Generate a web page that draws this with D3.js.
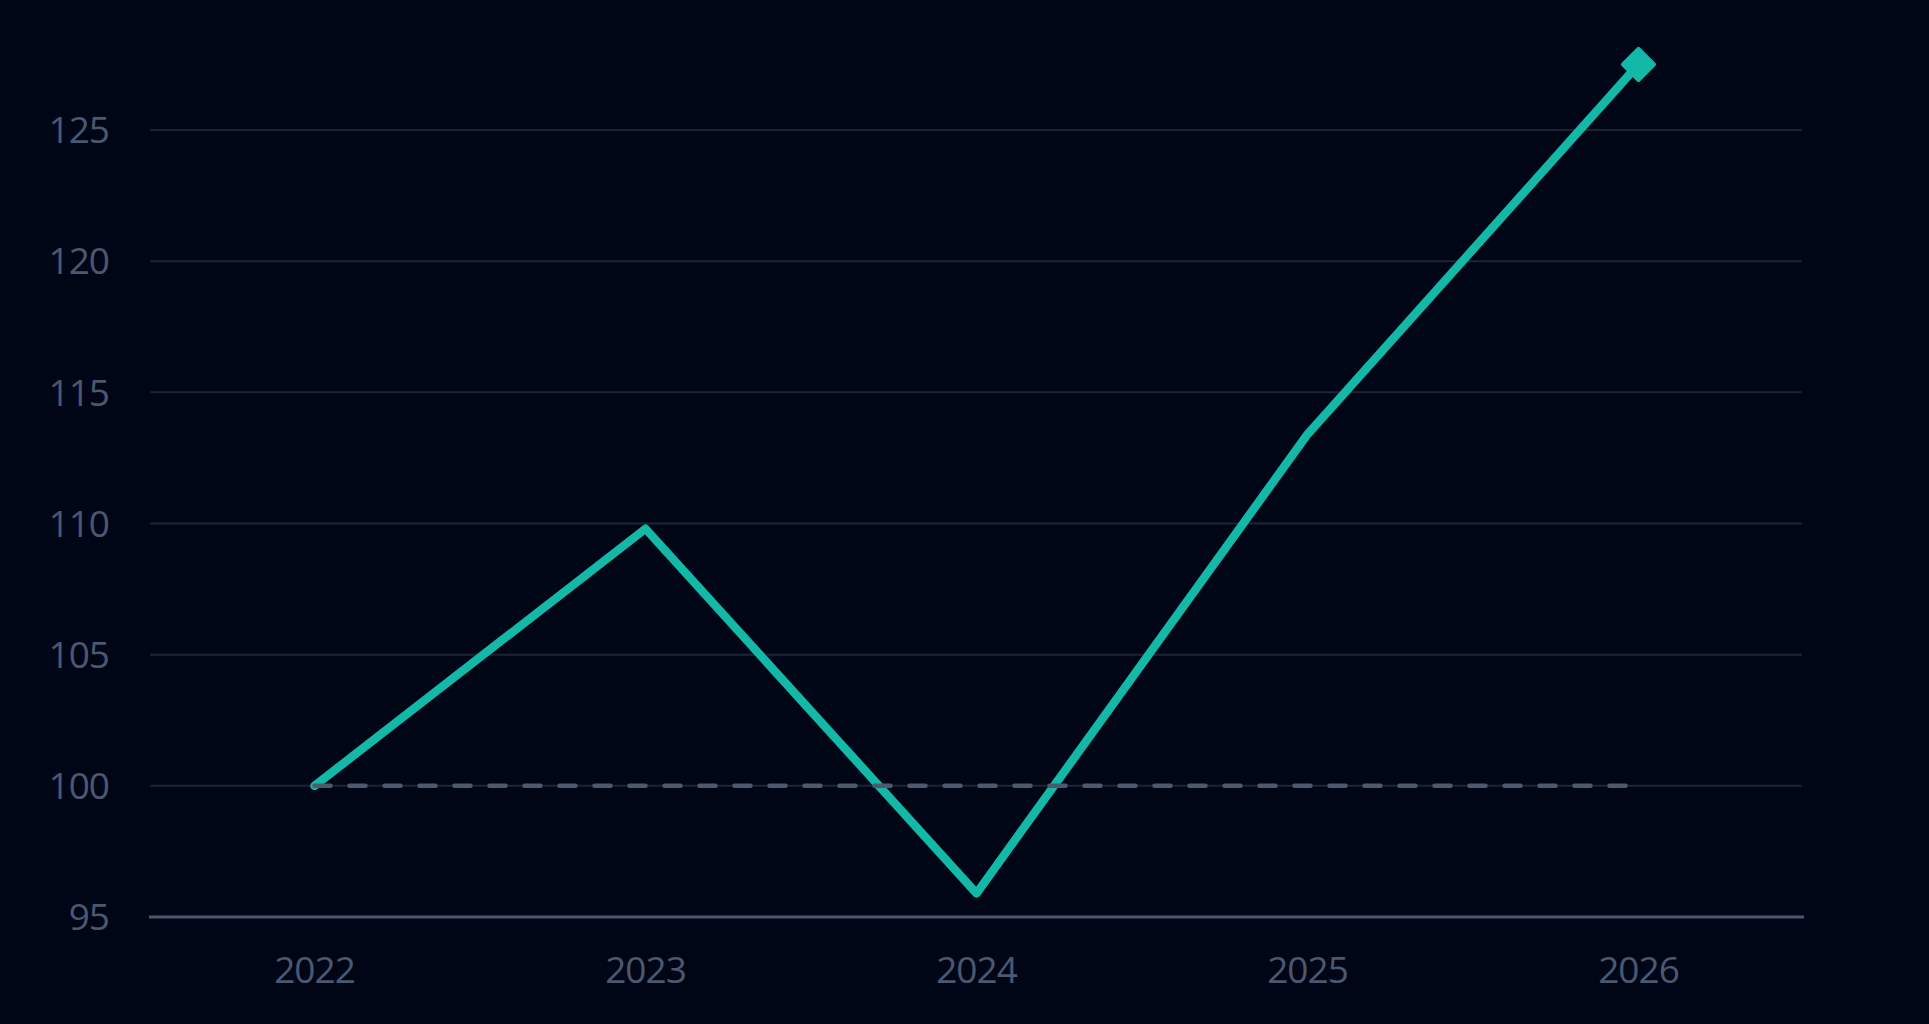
<!DOCTYPE html>
<html>
<head>
<meta charset="utf-8">
<script src="https://cdn.jsdelivr.net/npm/d3@7"></script>
<style>
  html, body { margin: 0; padding: 0; background: #010617; }
  svg { display: block; }
</style>
</head>
<body>
<script>
// chart values
const years = ['2022', '2023', '2024', '2025', '2026'];
const indexValues = [100, 109.8, 95.9, 113.4, 127.5];
const baselineValue = 100;
const yTicks = [95, 100, 105, 110, 115, 120, 125];

const width = 1929, height = 1024;
const plotLeft = 149, plotRight = 1804, plotTop = 130, plotBottom = 917;

const svg = d3.select('body').append('svg')
    .attr('width', width)
    .attr('height', height);

svg.append('rect')
    .attr('width', width)
    .attr('height', height)
    .attr('fill', '#010617');

const x = d3.scalePoint()
    .domain(years)
    .range([plotLeft, plotRight])
    .padding(0.5);

const y = d3.scaleLinear()
    .domain([95, 125])
    .range([plotBottom, plotTop]);

// horizontal grid
svg.append('g')
    .selectAll('line')
    .data(yTicks.filter(d => d !== 95))
    .join('line')
    .attr('x1', plotLeft + 1)
    .attr('x2', plotRight - 2)
    .attr('y1', d => y(d))
    .attr('y2', d => y(d))
    .attr('stroke', '#1c2434')
    .attr('stroke-width', 2);

// y labels
svg.append('g')
    .selectAll('text')
    .data(yTicks)
    .join('text')
    .attr('x', plotLeft - 40)
    .attr('y', d => y(d))
    .attr('dy', '0.36em')
    .attr('text-anchor', 'end')
    .attr('font-family', 'Open Sans, sans-serif')
    .attr('font-size', 37)
    .attr('letter-spacing', -1)
    .attr('fill', '#4a5870')
    .text(d => d);

// x axis line
svg.append('line')
    .attr('x1', plotLeft)
    .attr('x2', plotRight)
    .attr('y1', y(95))
    .attr('y2', y(95))
    .attr('stroke', '#4a5670')
    .attr('stroke-width', 3);

// x labels
svg.append('g')
    .selectAll('text')
    .data(years)
    .join('text')
    .attr('x', d => x(d))
    .attr('y', 983)
    .attr('text-anchor', 'middle')
    .attr('font-family', 'Open Sans, sans-serif')
    .attr('font-size', 37)
    .attr('letter-spacing', -1)
    .attr('fill', '#4a5870')
    .text(d => d);

// main line
const line = d3.line()
    .x((d, i) => x(years[i]))
    .y(d => y(d));

svg.append('path')
    .attr('d', line(indexValues))
    .attr('fill', 'none')
    .attr('stroke', '#14b8a6')
    .attr('stroke-width', 8.5)
    .attr('stroke-linejoin', 'round')
    .attr('stroke-linecap', 'round');

// end marker (diamond)
const last = indexValues.length - 1;
svg.append('rect')
    .attr('x', -11)
    .attr('y', -11)
    .attr('width', 22)
    .attr('height', 22)
    .attr('fill', '#14b8a6')
    .attr('stroke', '#14b8a6')
    .attr('stroke-width', 4)
    .attr('stroke-linejoin', 'round')
    .attr('transform', `translate(${x(years[last])},${y(indexValues[last])}) rotate(45)`);

// baseline dashed
svg.append('line')
    .attr('x1', x(years[0]))
    .attr('x2', x(years[last]) - 12)
    .attr('y1', y(baselineValue))
    .attr('y2', y(baselineValue))
    .attr('stroke', '#4d5a6e')
    .attr('stroke-width', 4.5)
    .attr('stroke-dasharray', '16 19')
    .attr('stroke-linecap', 'round');
</script>
</body>
</html>
